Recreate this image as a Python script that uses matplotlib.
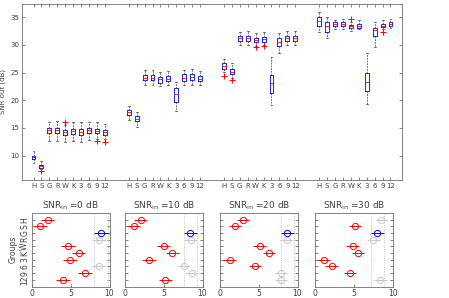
import matplotlib
matplotlib.use("Agg")
import matplotlib.pyplot as plt

GROUPS = ["H", "S", "G", "R", "W", "K", "3", "6", "9", "12"]
SNR_IN = [0, 10, 20, 30]

# boxplot stats per input SNR (one list per SNR_in, in GROUPS order)
MEDIANS = [
    [9.7, 8.1, 14.6, 14.6, 14.2, 14.4, 14.2, 14.6, 14.5, 14.2],
    [17.8, 16.7, 24.1, 24.1, 23.8, 23.9, 21.2, 24.1, 24.2, 23.9],
    [26.2, 25.2, 31.2, 31.2, 30.9, 31.0, 23.2, 30.5, 31.2, 31.2],
    [34.3, 33.4, 33.8, 33.8, 33.4, 33.5, 23.3, 32.7, 33.5, 33.8],
]
Q1 = [
    [9.4, 7.85, 14.05, 14.05, 13.7, 13.9, 13.8, 14.1, 14.1, 13.7],
    [17.35, 16.3, 23.65, 23.65, 23.2, 23.4, 19.75, 23.4, 23.6, 23.4],
    [25.6, 24.75, 30.75, 30.75, 30.45, 30.6, 21.4, 29.8, 30.7, 30.7],
    [33.5, 32.4, 33.5, 33.5, 33.1, 33.1, 21.7, 31.6, 33.2, 33.5],
]
Q3 = [
    [10.0, 8.3, 15.05, 15.05, 14.6, 14.8, 14.8, 15.0, 14.85, 14.55],
    [18.25, 17.2, 24.55, 24.55, 24.2, 24.4, 22.2, 24.7, 24.7, 24.4],
    [26.7, 25.65, 31.65, 31.65, 31.3, 31.5, 24.55, 31.2, 31.6, 31.6],
    [35.0, 34.1, 34.1, 34.1, 33.6, 33.8, 24.9, 33.1, 33.8, 34.1],
]
WHIS_LO = [
    [8.6, 7.6, 12.6, 12.6, 12.5, 12.6, 12.5, 12.8, 13.0, 13.0],
    [16.45, 15.2, 22.75, 22.8, 22.6, 22.7, 18.1, 22.8, 22.8, 22.7],
    [25.2, 24.0, 30.0, 30.0, 29.9, 30.0, 19.15, 28.5, 30.0, 30.0],
    [32.4, 31.3, 32.8, 32.9, 32.6, 32.8, 19.3, 29.7, 32.9, 33.0],
]
WHIS_HI = [
    [10.85, 9.05, 16.1, 16.2, 15.5, 16.0, 16.0, 16.1, 16.0, 15.7],
    [19.0, 17.9, 25.45, 25.4, 25.1, 25.3, 23.35, 25.4, 25.6, 25.3],
    [27.4, 26.7, 32.4, 32.6, 32.2, 32.3, 27.9, 32.1, 32.5, 32.5],
    [36.0, 35.1, 34.55, 34.6, 34.1, 34.5, 28.5, 34.1, 34.5, 34.6],
]
OUTLIERS = [
    [[], [7.2], [], [], [16.1], [], [], [], [12.65], [12.5]],
    [[], [], [], [], [], [], [], [], [], []],
    [[24.45], [23.7], [], [], [29.55], [29.8], [], [], [], []],
    [[], [], [], [], [34.6], [], [], [], [32.4], []],
]

# multiple comparison (mean rank) per input SNR
RANKS = [
    [2.0, 1.0, 8.9, 8.7, 4.6, 6.0, 4.9, 8.7, 6.8, 4.0],
    [2.0, 1.1, 8.4, 8.5, 5.0, 6.1, 3.1, 7.6, 8.6, 5.2],
    [3.0, 1.9, 8.7, 8.6, 5.1, 6.3, 1.25, 4.5, 7.9, 7.9],
    [8.5, 5.1, 8.0, 7.5, 4.8, 5.5, 1.07, 2.1, 4.5, 8.4],
]
HALF_CI = [0.9, 0.85, 0.8, 0.8]
# 'b' = reference group, 'r' = significantly different, 'g' = not different
STATUS = [
    ["r", "r", "b", "g", "r", "r", "r", "g", "r", "r"],
    ["r", "r", "b", "g", "r", "r", "r", "g", "g", "r"],
    ["r", "r", "b", "g", "r", "r", "r", "r", "g", "g"],
    ["g", "r", "b", "g", "r", "r", "r", "r", "r", "g"],
]
COLORS = {"b": "#0000ff", "r": "#ff0000", "g": "#c8c8c8"}

TXT = "#404040"
plt.rcParams.update({
    "font.family": "DejaVu Sans",
    "font.size": 5,
    "axes.edgecolor": "#707070",
    "axes.linewidth": 0.6,
    "xtick.color": "#505050",
    "ytick.color": "#505050",
    "xtick.labelcolor": TXT,
    "ytick.labelcolor": TXT,
    "xtick.direction": "in",
    "ytick.direction": "in",
    "xtick.major.size": 2,
    "ytick.major.size": 2,
    "xtick.major.width": 0.5,
    "ytick.major.width": 0.5,
})

fig = plt.figure(figsize=(4.49, 2.98), dpi=100)

# ---- top: boxplots ----
ax = fig.add_axes([22 / 449, 1 - 180 / 298, 380 / 449, 176 / 298])
stats, positions, labels = [], [], []
for k in range(len(SNR_IN)):
    for i, g in enumerate(GROUPS):
        stats.append(dict(med=MEDIANS[k][i], q1=Q1[k][i], q3=Q3[k][i],
                          whislo=WHIS_LO[k][i], whishi=WHIS_HI[k][i],
                          fliers=OUTLIERS[k][i]))
        positions.append(k * 12 + i + 1)
        labels.append(g)

ax.bxp(stats, positions=positions, widths=0.5, showfliers=True,
       boxprops=dict(color="#0000ff", linewidth=0.6),
       medianprops=dict(color="#ff0000", linewidth=0.6),
       whiskerprops=dict(color="#333333", linewidth=0.5, linestyle=(0, (2.5, 1.5))),
       capprops=dict(color="#333333", linewidth=0.5),
       flierprops=dict(marker="+", markeredgecolor="#ff0000", markersize=4,
                       markeredgewidth=0.7, linestyle="none"))
ax.set_xlim(-0.45, 47.45)
ax.set_ylim(5.6, 37.4)
ax.set_xticks(positions)
ax.set_xticklabels(labels)
ax.set_yticks([10, 15, 20, 25, 30, 35])
ax.tick_params(top=True, right=True, pad=2)
ax.set_ylabel("SNR out (dB)", color=TXT, labelpad=3)

# ---- bottom: multiple comparisons ----
lefts = [32, 125, 220, 315.3]
for k, snr in enumerate(SNR_IN):
    bx = fig.add_axes([lefts[k] / 449, 1 - 286.5 / 298, 77.5 / 449, 73.5 / 298])
    ypos = list(range(len(GROUPS), 0, -1))
    ref = STATUS[k].index("b")
    for x0 in (RANKS[k][ref] - HALF_CI[k], RANKS[k][ref] + HALF_CI[k]):
        bx.axvline(x0, color="#b0b0b0", linestyle=":", linewidth=0.6)
    for i in range(len(GROUPS)):
        c = COLORS[STATUS[k][i]]
        bx.errorbar(RANKS[k][i], ypos[i], xerr=HALF_CI[k], fmt="o", color=c,
                    mfc="none", mec=c, markersize=4.5, mew=0.7,
                    elinewidth=0.7, capsize=0)
    bx.set_xlim(0, 10)
    bx.set_ylim(0, 11)
    bx.set_xticks([0, 5, 10])
    bx.set_yticks(ypos)
    bx.tick_params(right=True, top=False, pad=2)
    bx.tick_params(axis="x", labelsize=5.5)
    if k == 0:
        bx.set_yticklabels(GROUPS, rotation=90, va="center", fontsize=5.5)
        bx.set_ylabel("Groups", color=TXT, fontsize=5.5, labelpad=2)
    else:
        bx.set_yticklabels([])
    bx.set_title(r"SNR$_{\rm in}$ =%d dB" % snr, fontsize=6.5, color=TXT, pad=3)

fig.savefig("out.png", dpi=100)
